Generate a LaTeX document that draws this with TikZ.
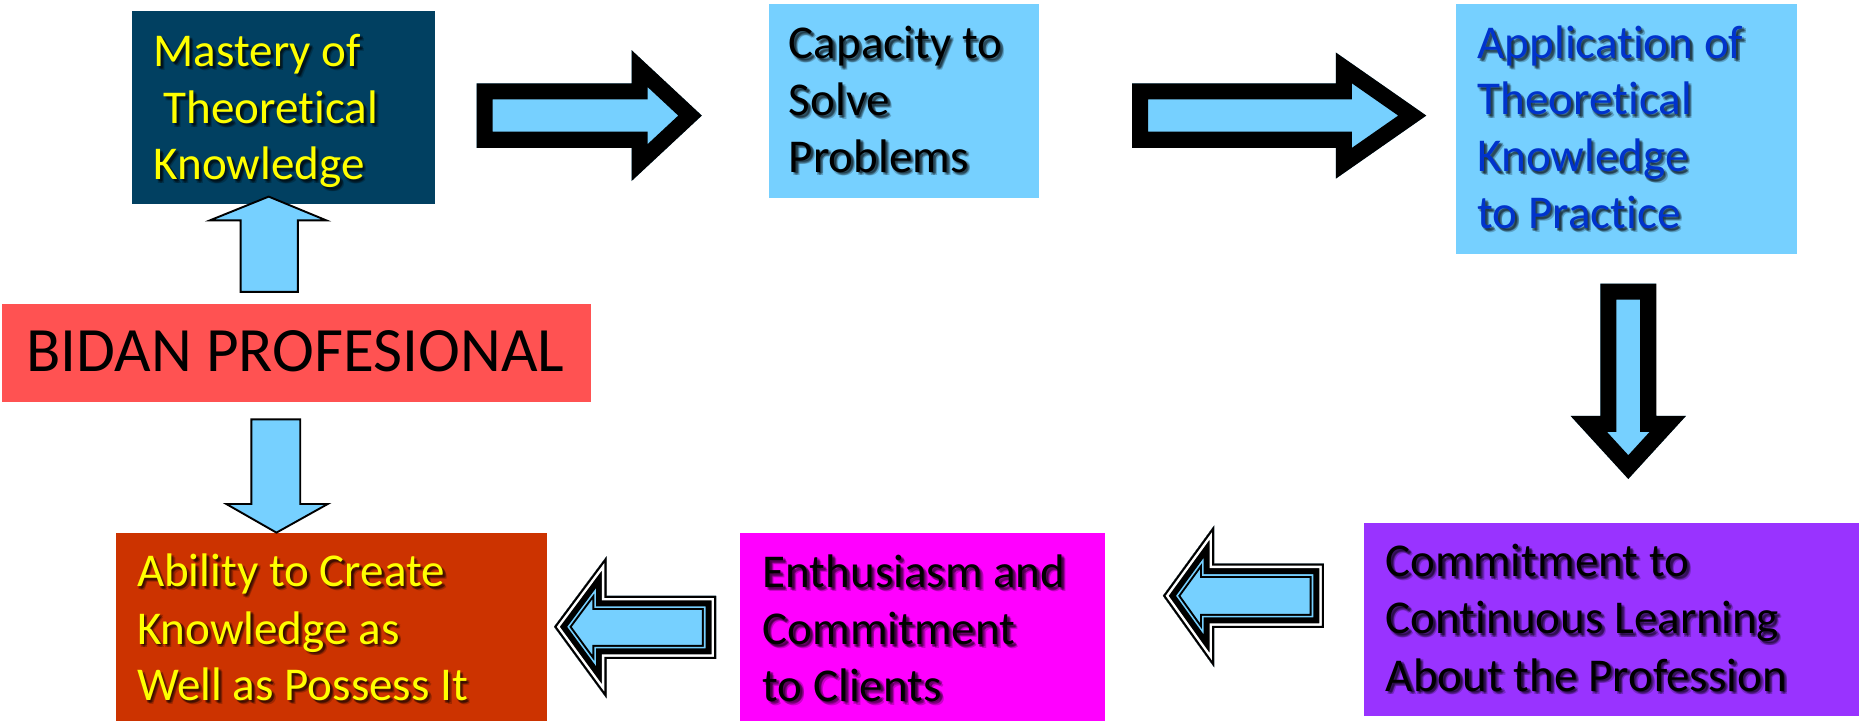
\documentclass[tikz,border=0pt]{standalone}
\usepackage{fontspec}
\setmainfont{Carlito}[Ligatures=NoCommon]
\definecolor{lblue}{RGB}{118,208,255}
\definecolor{navy}{RGB}{1,64,97}
\definecolor{redbox}{RGB}{255,82,82}
\definecolor{rust}{RGB}{204,51,0}
\definecolor{magbox}{RGB}{255,0,255}
\definecolor{purpbox}{RGB}{153,51,255}
\definecolor{yeltext}{RGB}{255,255,0}
\definecolor{apptext}{RGB}{0,51,204}
\tikzset{
  box/.style={draw=none, inner sep=0pt, outer sep=0pt, anchor=north west},
  txt/.style={anchor=base west, inner sep=0pt, outer sep=0pt, font=\fontsize{39.5}{47}\selectfont},
  shd/.style={txt, text=black, text opacity=0.22},
}
\newcommand{\shline}[5]{%
  \foreach \dx/\dy [count=\k] in {1.2/1.2,2.2/2.2,3.2/3.2,2.6/1.4,1.4/2.6}{%
    \node[shd, name=#1s\k] at (#2+\dx, #3+\dy) {#5};}%
  \node[txt, text=#4] (#1) at (#2,#3) {#5};}
\newcommand{\bkthick}[1]{%
  \begin{scope}
    \clip #1;
    \fill[lblue] #1;
    \draw[black, line width=27pt, line join=miter] #1;
  \end{scope}}
\newcommand{\bkthin}[1]{\filldraw[fill=lblue, draw=black, line width=1.6pt, line join=miter] #1;}
\newcommand{\bktriple}[1]{%
  \begin{scope}
    \clip #1;
    \fill[lblue] #1;
    \draw[black, line width=23.8pt, line join=miter] #1;
    \draw[lblue, line width=20.4pt, line join=miter] #1;
    \draw[black, line width=17.6pt, line join=miter] #1;
    \draw[white, line width=7.6pt, line join=miter] #1;
    \draw[black, line width=3.4pt, line join=miter] #1;
  \end{scope}}
\begin{document}
\begin{tikzpicture}[x=1pt, y=-1pt]
\useasboundingbox (0,0) rectangle (1566,605);
% boxes
\node[box, fill=navy, minimum width=254pt, minimum height=162pt] (mastery) at (111,9) {};
\node[box, fill=lblue, minimum width=227pt, minimum height=163pt] (capacity) at (645,3) {};
\node[box, fill=lblue, minimum width=286pt, minimum height=210pt] (application) at (1222,3) {};
\node[box, fill=redbox, minimum width=494pt, minimum height=82pt] (bidan) at (2,255) {};
\node[box, fill=rust, minimum width=362pt, minimum height=158pt] (ability) at (97,447) {};
\node[box, fill=magbox, minimum width=306pt, minimum height=158pt] (enthusiasm) at (621,447) {};
\node[box, fill=purpbox, minimum width=415pt, minimum height=162pt] (commitment) at (1145,439) {};
% block arrows
\bkthick{(400,70) -- (530,70) -- (530,42) -- (589,97) -- (530,152) -- (530,124) -- (400,124) -- cycle}
\bkthick{(950,70) -- (1121,70) -- (1121,44) -- (1197,97) -- (1121,150) -- (1121,124) -- (950,124) -- cycle}
\bkthick{(1343,238) -- (1390,238) -- (1390,349) -- (1415,349) -- (1366.5,402) -- (1318,349) -- (1343,349) -- cycle}
\bkthin{(202,245) -- (250,245) -- (250,185) -- (274,185) -- (225.5,165) -- (176,185) -- (202,185) -- cycle}
\bkthin{(211,352) -- (252,352) -- (252,423) -- (275,423) -- (232,447) -- (190,423) -- (211,423) -- cycle}
\bktriple{(976,500) -- (1019,441) -- (1019,473) -- (1111,473) -- (1111,527) -- (1019,527) -- (1019,560) -- cycle}
\bktriple{(465,526) -- (509,467) -- (509,500) -- (601,500) -- (601,553) -- (509,553) -- (509,586) -- cycle}
% texts
\shline{m1}{129}{56}{yeltext}{Mastery of}
\shline{m2}{137.5}{104}{yeltext}{Theoretical}
\shline{m3}{129}{151}{yeltext}{Knowledge}
\shline{c1}{662}{49.5}{black}{Capacity to}
\shline{c2}{662}{97}{black}{Solve}
\shline{c3}{662}{144.5}{black}{Problems}
\shline{a1}{1240}{49}{apptext}{Application of}
\shline{a2}{1240}{96.5}{apptext}{Theoretical}
\shline{a3}{1240}{144}{apptext}{Knowledge}
\shline{a4}{1240}{192}{apptext}{to Practice}
\node[anchor=base west, inner sep=0pt, font=\fontsize{53}{60}\selectfont] (bidantext) at (22,312) {BIDAN PROFESIONAL};
\shline{b1}{115}{492.5}{yeltext}{Ability to Create}
\shline{b2}{115}{540.5}{yeltext}{Knowledge as}
\shline{b3}{115}{588}{yeltext}{Well as Possess It}
\shline{e1}{640}{493}{black}{Enthusiasm and}
\shline{e2}{640}{541}{black}{Commitment}
\shline{e3}{640}{588.5}{black}{to Clients}
\shline{k1}{1163}{484}{black}{Commitment to}
\shline{k2}{1163}{532}{black}{Continuous Learning}
\shline{k3}{1163}{580}{black}{About the Profession}
\end{tikzpicture}
\end{document}
